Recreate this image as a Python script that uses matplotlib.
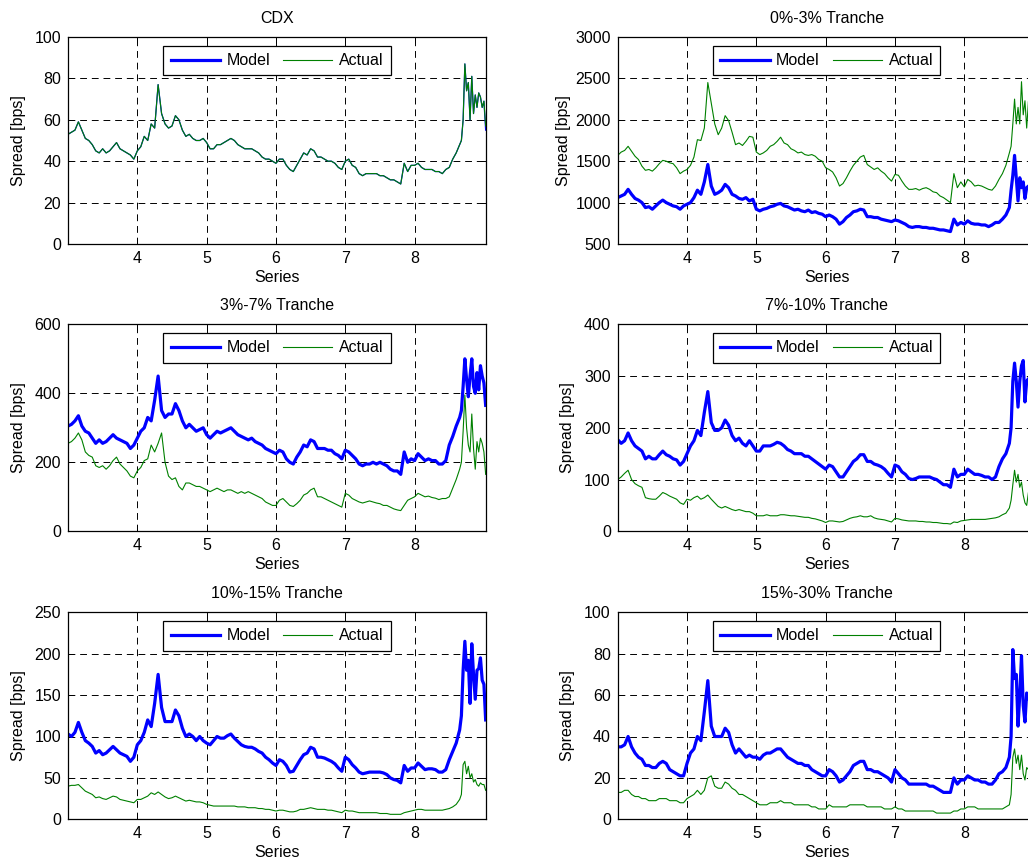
import numpy as np
import matplotlib
matplotlib.use('Agg')
import matplotlib.pyplot as plt
from matplotlib.lines import Line2D

plt.rcParams['font.family'] = ['Liberation Sans', 'DejaVu Sans']

# series axis: weekly-ish grid, finer sampling near the end of series 8
series_pos = np.concatenate([np.arange(3.0, 8.651, 0.05), np.arange(8.675, 9.026, 0.025)])

cdx_actual = [53, 54, 55, 59, 55, 51, 50, 48, 45, 44,
              46, 44, 45, 47, 49, 46, 45, 44, 43, 41,
              45, 47, 52, 50, 58, 56, 77, 63, 58, 56,
              57, 62, 60, 55, 52, 53, 51, 50, 50, 51,
              49, 46, 46, 48, 48, 49, 50, 51, 50, 48,
              47, 46, 46, 46, 45, 44, 42, 41, 41, 40,
              39, 41, 41, 38, 36, 35, 38, 41, 44, 43,
              46, 45, 42, 42, 41, 40, 40, 39, 37, 36,
              40, 41, 38, 37, 34, 33, 34, 34, 34, 34,
              33, 33, 32, 31, 31, 30, 29, 39, 35, 38,
              38, 39, 37, 36, 36, 36, 35, 35, 34, 36,
              37, 41, 44, 48,
              50, 60, 87, 74, 78, 60, 81, 63, 72, 66, 73, 71, 66, 69, 57]
cdx_model = cdx_actual[:-1] + [55]

tr03_model = [1060, 1080, 1100, 1160, 1100, 1050, 1030, 1000, 940, 950,
              920, 960, 1000, 1030, 1000, 980, 960, 950, 920, 960,
              980, 1000, 1060, 1150, 1100, 1250, 1460, 1200, 1100, 1120,
              1150, 1220, 1180, 1100, 1080, 1050, 1040, 1060, 1020, 1040,
              920, 900, 920, 930, 950, 960, 980, 990, 960, 950,
              930, 910, 920, 900, 890, 910, 880, 890, 870, 860,
              830, 850, 830, 800, 740, 770, 820, 850, 890, 900,
              920, 910, 830, 830, 820, 820, 800, 790, 780, 770,
              790, 780, 760, 740, 710, 700, 710, 710, 700, 700,
              690, 690, 680, 670, 670, 660, 650, 800, 730, 760,
              740, 780, 750, 740, 740, 730, 730, 710, 730, 760,
              760, 800, 850, 940,
              1150, 1330, 1570, 1300, 1020, 1300, 1180, 1250, 1050, 1180, 1200, 1150, 1100, 1200, 1150]
tr03_actual = [1570, 1610, 1630, 1680, 1620, 1560, 1520, 1440, 1390, 1400,
               1380, 1420, 1470, 1510, 1500, 1480, 1470, 1420, 1350, 1380,
               1400, 1450, 1550, 1760, 1750, 1900, 2450, 2200, 1950, 1820,
               1900, 2050, 1990, 1850, 1700, 1720, 1690, 1740, 1800, 1790,
               1610, 1580, 1600, 1630, 1680, 1700, 1740, 1790, 1720, 1700,
               1650, 1630, 1600, 1610, 1580, 1570, 1580, 1560, 1520, 1500,
               1420, 1400, 1370, 1300, 1200, 1230, 1300, 1380, 1450, 1500,
               1550, 1570, 1460, 1430, 1400, 1420, 1380, 1350, 1300, 1260,
               1340, 1330, 1260, 1200, 1160, 1160, 1170, 1150, 1170, 1180,
               1160, 1130, 1120, 1080, 1060, 1030, 1000, 1350, 1180, 1250,
               1190, 1280, 1250, 1200, 1210, 1200, 1180, 1160, 1150, 1200,
               1280, 1350, 1450, 1600,
               1680, 1950, 2250, 1950, 2150, 1950, 2460, 2060, 2230, 1900, 2220, 2100, 2000, 2150, 2050]

tr37_model = [305, 310, 320, 335, 305, 290, 285, 270, 255, 265,
              255, 260, 270, 280, 270, 265, 260, 255, 240, 250,
              270, 290, 300, 330, 320, 380, 450, 350, 330, 340,
              340, 370, 350, 320, 300, 310, 300, 290, 295, 300,
              280, 270, 280, 290, 285, 290, 295, 300, 290, 280,
              275, 270, 265, 270, 260, 255, 250, 240, 235, 230,
              225, 235, 230, 210, 200, 195, 215, 230, 250, 245,
              265, 260, 240, 240, 240, 235, 235, 225, 220, 210,
              235, 230, 220, 210, 195, 190, 195, 195, 200, 195,
              200, 195, 190, 180, 175, 175, 165, 230, 200, 210,
              205, 225, 215, 205, 210, 205, 205, 195, 195, 205,
              250, 275, 305, 330,
              350, 420, 500, 440, 390, 450, 500, 420, 400, 460, 410, 480, 450, 430, 365]
tr37_actual = [255, 260, 270, 285, 265, 230, 220, 215, 190, 185,
               190, 180, 190, 205, 215, 195, 185, 175, 160, 155,
               175, 185, 205, 210, 250, 230, 255, 285, 200, 160,
               150, 155, 130, 120, 140, 140, 135, 130, 130, 125,
               120, 115, 120, 125, 120, 115, 120, 120, 115, 110,
               115, 110, 115, 110, 105, 100, 95, 85, 80, 75,
               75, 90, 95, 85, 75, 72, 80, 90, 105, 110,
               120, 125, 100, 100, 95, 90, 85, 80, 75, 70,
               110, 105, 95, 90, 85, 82, 85, 88, 85, 82,
               80, 75, 75, 70, 65, 62, 60, 75, 90, 95,
               100, 110, 105, 100, 102, 98, 96, 92, 95, 95,
               100, 125, 150, 180,
               200, 290, 395, 300, 250, 230, 340, 240, 180, 260, 230, 270, 255, 230, 165]

tr710_model = [177, 170, 175, 190, 175, 165, 160, 155, 140, 145,
               140, 140, 148, 155, 148, 145, 140, 138, 128, 135,
               150, 165, 175, 195, 185, 230, 270, 210, 195, 195,
               200, 215, 205, 185, 175, 180, 170, 165, 175, 165,
               155, 155, 165, 165, 165, 168, 172, 170, 165, 158,
               155, 150, 150, 150, 145, 145, 140, 135, 130, 125,
               120, 128, 125, 115, 105, 105, 115, 125, 135, 140,
               148, 148, 135, 135, 130, 128, 125, 120, 112, 105,
               128, 125, 115, 110, 102, 100, 102, 105, 105, 105,
               105, 102, 100, 95, 90, 90, 85, 120, 105, 110,
               110, 120, 115, 110, 110, 108, 105, 105, 100, 105,
               125, 140, 150, 170,
               200, 290, 325, 290, 240, 290, 320, 330, 250, 290, 295, 280, 270, 285, 275]
tr710_actual = [100, 105, 112, 118, 100, 92, 88, 85, 65, 63,
                62, 62, 68, 75, 72, 68, 65, 62, 55, 52,
                62, 60, 65, 68, 62, 65, 70, 62, 55, 48,
                45, 48, 45, 42, 40, 42, 40, 38, 38, 35,
                30, 30, 30, 32, 30, 30, 30, 32, 32, 31,
                30, 30, 29, 28, 27, 27, 25, 24, 22, 20,
                17, 20, 20, 19, 18, 19, 22, 25, 27, 28,
                30, 28, 28, 30, 26, 24, 23, 22, 20, 18,
                25, 24, 22, 21, 20, 20, 20, 19, 19, 18,
                18, 17, 17, 16, 15, 15, 14, 18, 17, 20,
                21, 22, 23, 23, 23, 23, 23, 24, 25, 26,
                28, 32, 35, 45,
                60, 90, 118, 95, 110, 85, 95, 70, 55, 50, 75, 80, 70, 75, 72]

tr1015_model = [103, 100, 105, 117, 105, 95, 92, 88, 80, 83,
                78, 80, 84, 88, 84, 80, 78, 76, 70, 75,
                90, 95, 105, 120, 112, 140, 175, 135, 118, 118,
                118, 132, 125, 110, 100, 103, 100, 95, 100, 95,
                92, 90, 95, 100, 98, 98, 101, 103, 98, 94,
                90, 88, 87, 87, 85, 82, 80, 75, 72, 68,
                65, 72, 70, 65, 57, 58, 65, 72, 78, 80,
                87, 85, 75, 75, 74, 72, 70, 67, 62, 58,
                75, 72, 66, 62, 57, 55, 56, 57, 57, 57,
                57, 56, 54, 50, 48, 47, 44, 65, 58, 62,
                62, 68, 64, 60, 61, 61, 60, 57, 57, 60,
                72, 82, 92, 108,
                125, 180, 215, 180, 192, 140, 212, 175, 145, 180, 182, 195, 168, 163, 120]
tr1015_actual = [40, 41, 41, 42, 38, 34, 32, 30, 26, 27,
                 25, 24, 26, 28, 27, 24, 23, 22, 21, 20,
                 24, 24, 26, 28, 32, 30, 33, 30, 27, 25,
                 26, 28, 26, 24, 22, 23, 22, 21, 21, 20,
                 18, 17, 16, 16, 16, 16, 16, 16, 16, 15,
                 15, 15, 14, 14, 14, 13, 13, 12, 12, 11,
                 10, 11, 11, 10, 9, 9, 10, 12, 12, 13,
                 14, 13, 12, 12, 12, 11, 11, 10, 9, 8,
                 11, 10, 10, 9, 8, 8, 8, 8, 8, 8,
                 7, 7, 7, 6, 6, 6, 6, 8, 9, 10,
                 11, 12, 12, 11, 11, 11, 11, 11, 11, 12,
                 13, 15, 18, 24,
                 30, 66, 70, 55, 64, 50, 55, 45, 48, 42, 40, 44, 42, 42, 35]

tr1530_model = [35, 35, 36, 40, 35, 32, 30, 29, 26, 26,
                25, 25, 27, 28, 27, 24, 23, 22, 21, 21,
                27, 32, 34, 40, 38, 52, 67, 45, 40, 40,
                40, 44, 42, 36, 32, 34, 32, 30, 31, 30,
                30, 29, 31, 32, 32, 33, 34, 34, 32, 30,
                29, 28, 27, 27, 26, 26, 24, 23, 22, 21,
                21, 24, 23, 21, 18, 19, 21, 23, 26, 27,
                28, 28, 24, 24, 23, 23, 22, 21, 20, 18,
                24, 22, 20, 19, 17, 17, 17, 17, 17, 17,
                16, 16, 15, 14, 13, 13, 13, 20, 17, 19,
                19, 21, 20, 19, 19, 18, 18, 17, 17, 19,
                22, 23, 25, 30,
                40, 82, 68, 70, 45, 60, 79, 55, 47, 61, 60, 55, 52, 58, 55]
tr1530_actual = [13, 13, 14, 14, 12, 11, 11, 10, 10, 9,
                 9, 9, 10, 10, 10, 9, 9, 9, 8, 8,
                 10, 11, 12, 14, 12, 14, 20, 21, 16, 15,
                 15, 18, 17, 15, 14, 12, 12, 11, 10, 9,
                 8, 7, 7, 7, 8, 8, 8, 9, 8, 8,
                 8, 7, 7, 7, 7, 7, 6, 6, 5, 5,
                 5, 7, 6, 6, 6, 6, 6, 7, 7, 7,
                 7, 7, 6, 6, 6, 6, 6, 5, 5, 5,
                 6, 5, 5, 4, 4, 4, 4, 4, 4, 4,
                 4, 4, 3, 3, 3, 3, 3, 4, 4, 5,
                 5, 6, 6, 6, 5, 5, 5, 5, 5, 5,
                 5, 5, 6, 7,
                 12, 30, 34, 27, 31, 24, 31, 22, 19, 25, 24, 26, 23, 25, 24]

titles = ['CDX', '0%-3% Tranche', '3%-7% Tranche',
          '7%-10% Tranche', '10%-15% Tranche', '15%-30% Tranche']
models = [cdx_model, tr03_model, tr37_model, tr710_model, tr1015_model, tr1530_model]
actuals = [cdx_actual, tr03_actual, tr37_actual, tr710_actual, tr1015_actual, tr1530_actual]
y_limits = [(0, 100), (500, 3000), (0, 600), (0, 400), (0, 250), (0, 100)]
y_steps = [20, 500, 200, 100, 50, 20]
x_ticks = [4, 5, 6, 7, 8]

BLUE = (0, 0, 1)
GREEN = (0, 0.5, 0)


def main():
    fig = plt.figure(figsize=(10.28, 8.65), dpi=100)
    W, H = 1028.0, 865.0
    col_left = [68.0, 617.7]
    row_top = [37.0, 324.3, 612.3]
    ax_w, ax_h = 418.0, 207.0
    ylab_x = [-0.100, -0.112, -0.100, -0.103, -0.100, -0.103]

    for i, title in enumerate(titles):
        r, c = divmod(i, 2)
        ax = fig.add_axes([col_left[c] / W, 1 - (row_top[r] + ax_h) / H, ax_w / W, ax_h / H])
        assert len(models[i]) == len(series_pos) and len(actuals[i]) == len(series_pos)
        # the index model sits right under the actual quote, so keep it thin there
        model_lw = 0.9 if i == 0 else 2.3
        ax.plot(series_pos, models[i], color=BLUE, lw=model_lw)
        ax.plot(series_pos, actuals[i], color=GREEN, lw=0.8)
        lo, hi = y_limits[i]
        ax.set_xlim(3.0, 9.03)
        ax.set_ylim(lo, hi)
        ax.set_xticks(x_ticks)
        ax.set_yticks(np.arange(lo, hi + 1, y_steps[i]))
        ax.set_axisbelow(True)
        ax.grid(True, color='k', linestyle=(0, (7, 5)), linewidth=0.7)
        ax.tick_params(direction='in', length=4, width=0.7, top=True, right=True,
                       labelsize=11.5, pad=5)
        for sp in ax.spines.values():
            sp.set_linewidth(0.9)
        ax.set_title(title, fontsize=11.5, pad=10)
        ax.set_xlabel('Series', fontsize=11.5, labelpad=3)
        ax.set_ylabel('Spread [bps]', fontsize=11.5)
        ax.yaxis.set_label_coords(ylab_x[i], 0.5)
        handles = [Line2D([], [], color=BLUE, lw=2.3), Line2D([], [], color=GREEN, lw=0.8)]
        leg = ax.legend(handles, ['Model', 'Actual'], loc='upper center',
                        bbox_to_anchor=(0.5, 1 - 9 / ax_h), ncol=2,
                        fontsize=11.5, handlelength=3.1, handletextpad=0.4,
                        columnspacing=0.8, borderpad=0.45, borderaxespad=0,
                        fancybox=False, framealpha=1)
        leg.get_frame().set_edgecolor('k')
        leg.get_frame().set_linewidth(0.9)

    fig.savefig('out.png', dpi=100)
    plt.close(fig)


if __name__ == '__main__':
    main()
